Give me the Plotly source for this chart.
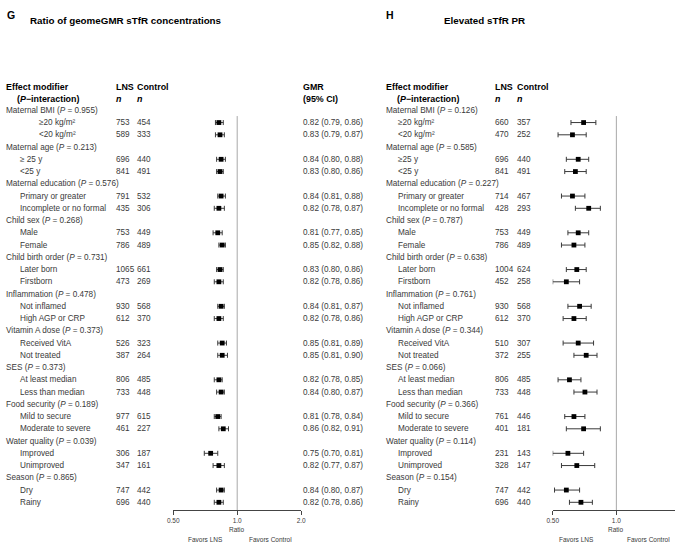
import numpy as np
import plotly.graph_objects as go

# ---- data -------------------------------------------------------------
groups = ["Maternal BMI", "Maternal age", "Maternal education", "Child sex",
          "Child birth order", "Inflammation", "Vitamin A dose", "SES",
          "Food security", "Water quality", "Season"]
p_left = ["0.955", "0.213", "0.576", "0.268", "0.731", "0.478", "0.373",
          "0.373", "0.189", "0.039", "0.865"]
p_right = ["0.126", "0.585", "0.227", "0.787", "0.638", "0.761", "0.344",
           "0.066", "0.366", "0.114", "0.154"]

sub_left = ["≥20 kg/m²", "<20 kg/m²", "≥ 25 y", "<25 y", "Primary or greater",
            "Incomplete or no formal", "Male", "Female", "Later born", "Firstborn",
            "Not inflamed", "High AGP or CRP", "Received VitA", "Not treated",
            "At least median", "Less than median", "Mild to secure",
            "Moderate to severe", "Improved", "Unimproved", "Dry", "Rainy"]
sub_right = ["≥20 kg/m²", "<20 kg/m²", "≥25 y", "<25 y", "Primary or greater",
             "Incomplete or no formal", "Male", "Female", "Later born", "Firstborn",
             "Not inflamed", "High AGP or CRP", "Received VitA", "Not treated",
             "At least median", "Less than median", "Mild to secure",
             "Moderate to severe", "Improved", "Unimproved", "Dry", "Rainy"]

lns_left = [753, 589, 696, 841, 791, 435, 753, 786, 1065, 473, 930, 612,
            526, 387, 806, 733, 977, 461, 306, 347, 747, 696]
ctl_left = [454, 333, 440, 491, 532, 306, 449, 489, 661, 269, 568, 370,
            323, 264, 485, 448, 615, 227, 187, 161, 442, 440]
gmr = [0.82, 0.83, 0.84, 0.83, 0.84, 0.82, 0.81, 0.85, 0.83, 0.82, 0.84, 0.82,
       0.85, 0.85, 0.82, 0.84, 0.81, 0.86, 0.75, 0.82, 0.84, 0.82]
gmr_lo = [0.79, 0.79, 0.80, 0.80, 0.81, 0.78, 0.77, 0.82, 0.80, 0.78, 0.81, 0.78,
          0.81, 0.81, 0.78, 0.80, 0.78, 0.82, 0.70, 0.77, 0.80, 0.78]
gmr_hi = [0.86, 0.87, 0.88, 0.86, 0.88, 0.87, 0.85, 0.88, 0.86, 0.86, 0.87, 0.86,
          0.89, 0.90, 0.85, 0.87, 0.84, 0.91, 0.81, 0.87, 0.87, 0.86]

lns_right = [660, 470, 696, 841, 714, 428, 753, 786, 1004, 452, 930, 612,
             510, 372, 806, 733, 761, 401, 231, 328, 747, 696]
ctl_right = [357, 252, 440, 491, 467, 293, 449, 489, 624, 258, 568, 370,
             307, 255, 485, 448, 446, 181, 143, 147, 442, 440]
pr = [0.70, 0.62, 0.66, 0.64, 0.62, 0.74, 0.66, 0.63, 0.65, 0.58, 0.67, 0.63,
      0.66, 0.72, 0.60, 0.71, 0.63, 0.70, 0.59, 0.65, 0.58, 0.68]
pr_lo = [0.61, 0.53, 0.58, 0.57, 0.55, 0.64, 0.59, 0.55, 0.58, 0.50, 0.59, 0.56,
         0.56, 0.63, 0.53, 0.63, 0.57, 0.58, 0.50, 0.55, 0.51, 0.60]
pr_hi = [0.80, 0.72, 0.74, 0.72, 0.71, 0.84, 0.74, 0.71, 0.72, 0.67, 0.76, 0.72,
         0.78, 0.81, 0.68, 0.81, 0.71, 0.84, 0.70, 0.79, 0.67, 0.77]

# ---- layout constants ---------------------------------------------------
W, H = 680, 543
FONT = "Liberation Sans, Arial, Helvetica, sans-serif"
TXT = "#3a3a3a"
ROW0, ROWH = 110.3, 12.25          # pixel centre of row 0 and row height
AXIS_Y = 510                       # pixel position of the x axis line
row_top = -ROW0 / ROWH
row_bot = (AXIS_Y - ROW0) / ROWH

grp_rows = [3 * i for i in range(len(groups))]
sub_rows = [3 * i + k for i in range(len(groups)) for k in (1, 2)]


def px(x):
    return x / W


def py(y):
    return 1 - y / H


fig = go.Figure()
annotations = []


def txt(text, x, row, size=8.2, color=TXT, bold=False):
    if bold:
        text = f"<b>{text}</b>"
    annotations.append(dict(text=text, x=px(x), y=row, xref="paper", yref="y",
                            xanchor="left", yanchor="middle", showarrow=False,
                            borderpad=0, xshift=-1,
                            font=dict(size=size, color=color, family=FONT)))


def panel(x0, col_sub, col_lns, col_ctl, pvals, subs, lns, ctl, est, lo, hi,
          xaxis, first_indent=0, ci_col=None):
    # header
    hs = 8.9
    txt("Effect modifier", x0, -1.9, size=hs, color="black", bold=True)
    txt("(<i>P</i>−interaction)", x0 + 11, -0.9, size=hs, color="black", bold=True)
    txt("LNS", col_lns, -1.9, size=hs, color="black", bold=True)
    txt("Control", col_ctl, -1.9, size=hs, color="black", bold=True)
    txt("<i>n</i>", col_lns, -0.9, size=hs, color="black", bold=True)
    txt("<i>n</i>", col_ctl, -0.9, size=hs, color="black", bold=True)
    if ci_col is not None:
        txt("GMR", ci_col, -1.9, size=hs, color="black", bold=True)
        txt("(95% CI)", ci_col, -0.9, size=hs, color="black", bold=True)
    for g, p, r in zip(groups, pvals, grp_rows):
        txt(f"{g} (<i>P</i> = {p})", x0, r)
    for i, r in enumerate(sub_rows):
        ind = first_indent if i < 2 else 0
        txt(subs[i], col_sub + ind, r)
        txt(str(lns[i]), col_lns, r)
        txt(str(ctl[i]), col_ctl, r)
        if ci_col is not None:
            txt(f"{est[i]:.2f} ({lo[i]:.2f}, {hi[i]:.2f})", ci_col, r)
    est_a, lo_a, hi_a = np.array(est), np.array(lo), np.array(hi)
    fig.add_trace(go.Scatter(
        x=est, y=sub_rows, mode="markers", xaxis=xaxis, yaxis="y",
        marker=dict(symbol="square", size=4.8, color="black"),
        error_x=dict(type="data", symmetric=False, array=hi_a - est_a,
                     arrayminus=est_a - lo_a, color="#3a3a3a", thickness=1, width=2.5),
        cliponaxis=False, showlegend=False, hoverinfo="skip"))


panel(0, 14, 112, 133, p_left, sub_left, lns_left, ctl_left, gmr, gmr_lo, gmr_hi,
      "x", first_indent=20, ci_col=302)
panel(386, 398, 497, 519, p_right, sub_right, lns_right, ctl_right, pr, pr_lo, pr_hi,
      "x2")


def label(text, x, y, size, color="black", anchor="left"):
    annotations.append(dict(text=text, x=px(x), y=py(y), xref="paper", yref="paper",
                            xanchor=anchor, yanchor="middle", showarrow=False,
                            borderpad=0, font=dict(size=size, color=color, family=FONT)))


# titles
label("<b>G</b>", 0, 15, 10.5)
label("<b>Ratio of geomeGMR sTfR concentrations</b>", 23, 20, 9.8)
label("<b>H</b>", 385, 15, 10.5)
label("<b>Elevated sTfR PR</b>", 444, 20, 9.8)

# axis captions
for xc, lab, yc in [(235, "Ratio", 529), (203, "Favors LNS", 539.5),
                    (269, "Favors Control", 539.5), (620.3, "Ratio", 529),
                    (580, "Favors LNS", 539.5), (653, "Favors Control", 539.5)]:
    label(lab, xc, yc, 6.5, color=TXT, anchor="center")

# reference lines at ratio = 1
shapes = [dict(type="line", xref=xr, yref="y", x0=1, x1=1, y0=0.47, y1=row_bot,
               line=dict(color="#a8a8a8", width=1)) for xr in ("x", "x2")]

lg2 = np.log10(2)
axis_common = dict(type="log", anchor="y", showgrid=False, zeroline=False,
                   showline=True, linecolor="#444444", linewidth=1, ticks="outside",
                   ticklen=4, tickcolor="#444444",
                   tickfont=dict(size=6.5, color=TXT, family=FONT))
fig.update_layout(
    width=W, height=H,
    margin=dict(l=0, r=0, t=0, b=0),
    paper_bgcolor="white", plot_bgcolor="white",
    xaxis=dict(domain=[px(170), px(300)], range=[-lg2, lg2],
               tickvals=[0.5, 1, 2], ticktext=["0.50", "1.0", "2.0"], **axis_common),
    xaxis2=dict(domain=[px(555.7), 1.0],
                range=[-lg2, -lg2 + (W - 555.7) / 64.7 * lg2],
                tickvals=[0.5, 1, 2], ticktext=["0.50", "1.0", "2.0"], **axis_common),
    yaxis=dict(domain=[1 - AXIS_Y / H, 1], range=[row_bot, row_top], visible=False),
    annotations=annotations,
    shapes=shapes,
    showlegend=False,
)

# page body has a default 8px margin; remove it so the figure sits at the corner
fig.write_html("out.html", config={"displayModeBar": False},
               post_script="document.body.style.margin='0';document.body.style.overflow='hidden';")
